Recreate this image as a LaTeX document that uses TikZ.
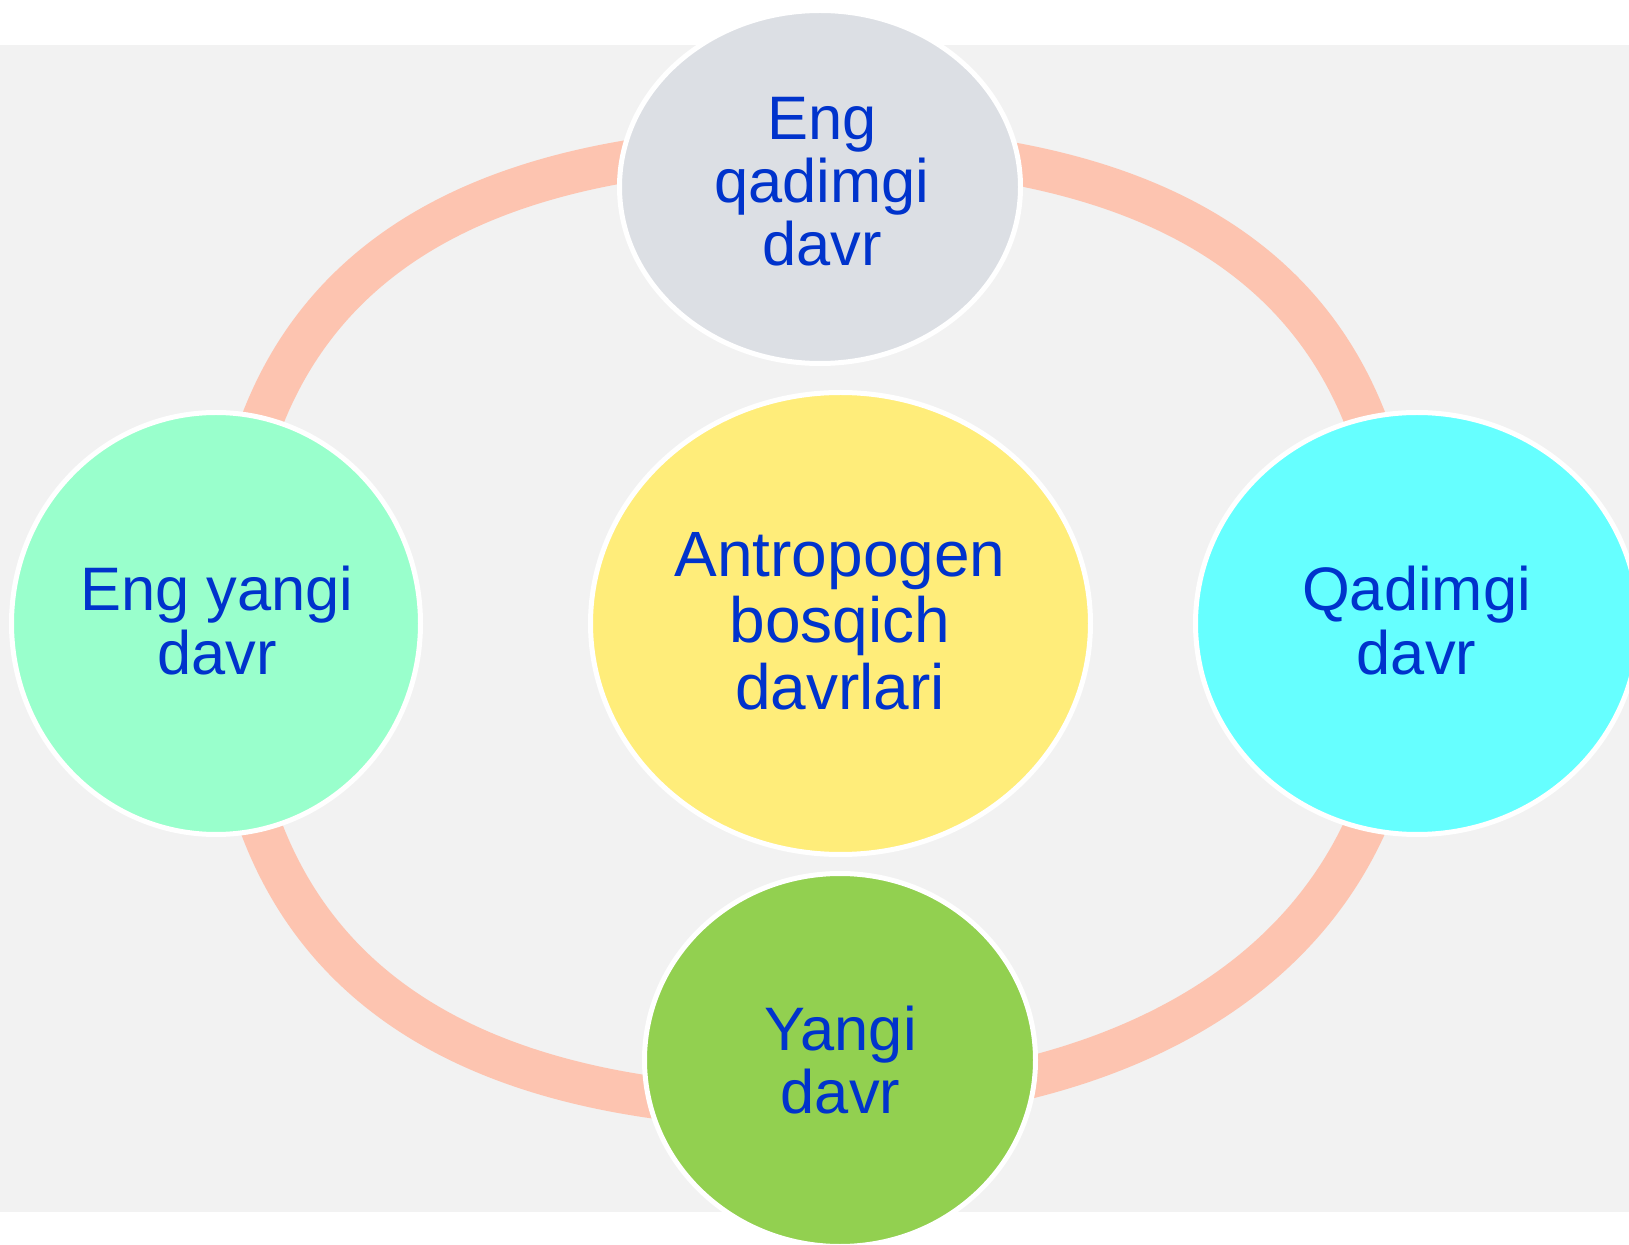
\documentclass[tikz,border=0pt]{standalone}
\usepackage{fontspec}
\setmainfont{Liberation Sans}
\usetikzlibrary{shapes.geometric}
\definecolor{bandgray}{HTML}{F2F2F2}
\definecolor{ringsalmon}{HTML}{FDC4B0}
\definecolor{txtblue}{HTML}{0033CC}
\definecolor{topfill}{HTML}{DCDFE4}
\definecolor{leftfill}{HTML}{99FFCC}
\definecolor{rightfill}{HTML}{66FFFF}
\definecolor{midfill}{HTML}{FFED7A}
\definecolor{botfill}{HTML}{92D050}
\begin{document}
\begin{tikzpicture}[x=0.5pt,y=-0.5pt,
  blob/.style={ellipse, draw=white, line width=2.5pt, inner sep=0pt, outer sep=0pt},
  lbl/.style={text=txtblue, align=center, inner sep=0pt, font=\fontsize{30.7}{31.65}\selectfont},
  biglbl/.style={lbl, font=\fontsize{32}{33.35}\selectfont},
  ringline/.style={draw=ringsalmon, line width=21pt}]
\clip (0,0) rectangle (1629,1245);
\useasboundingbox (0,0) rectangle (1629,1245);
\fill[white] (0,0) rectangle (1629,1245);
\fill[bandgray] (0,45) rectangle (1629,1212);
% cycle ring: four arcs joining the hidden points under the outer nodes
\coordinate (rT) at (814,147);
\coordinate (rR) at (1400,625);
\coordinate (rR2) at (1406,625);
\coordinate (rB) at (814,1103);
\coordinate (rB2) at (814,1108);
\coordinate (rL) at (228,625);
\draw[ringline] (rL) .. controls (228,280.8) and (450.7,147) .. (rT);
\draw[ringline] (rT) .. controls (1206.6,147) and (1400,304.7) .. (rR);
\draw[ringline] (rR2) .. controls (1406,985) and (1092.2,1103) .. (rB);
\draw[ringline] (rB2) .. controls (439,1108) and (228,960) .. (rL);
% nodes
\node[blob, fill=midfill, minimum width=250pt, minimum height=231pt] (mid) at (840.5,623.5) {};
\node[blob, fill=topfill, minimum width=200.5pt, minimum height=176.5pt] (top) at (820,187) {};
\node[blob, fill=leftfill, minimum width=204.5pt, minimum height=211pt] (left) at (216,623.5) {};
\node[blob, fill=rightfill, minimum width=221.5pt, minimum height=211pt] (right) at (1417,623.5) {};
\node[blob, fill=botfill, minimum width=195.5pt, minimum height=186.5pt] (bot) at (840,1060) {};
% labels
\node[biglbl] (midtext) at (840,621) {Antropogen\\bosqich\\davrlari};
\node[lbl] (toptext) at (822,181.5) {Eng\\qadimgi\\davr};
\node[lbl] (lefttext) at (217,620.5) {Eng yangi\\davr};
\node[lbl] (righttext) at (1416.5,620.5) {Qadimgi\\davr};
\node[lbl] (bottext) at (840.5,1060) {Yangi\\davr};
\end{tikzpicture}
\end{document}
